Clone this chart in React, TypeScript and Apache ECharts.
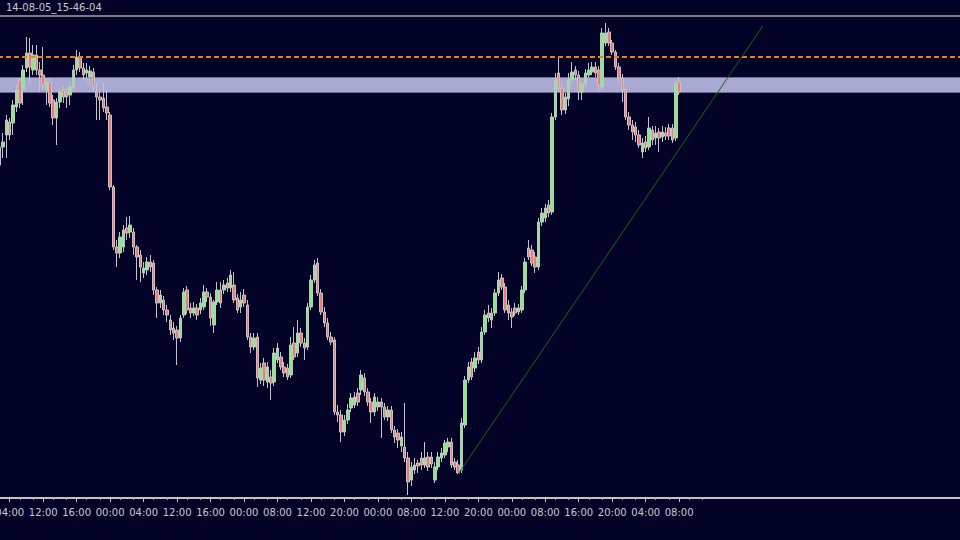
import React, { useEffect, useRef } from "react";
import * as echarts from "echarts";

const TITLE = "14-08-05_15-46-04";
const TIME_LABELS = [
  "04:00", "12:00", "16:00", "00:00", "04:00", "12:00", "16:00", "00:00", "08:00", "12:00", "20:00",
  "00:00", "08:00", "12:00", "20:00", "00:00", "08:00", "16:00", "20:00", "04:00", "08:00",
];
const LABEL_FIRST = 3;
const LABEL_STEP = 10;
const AXIS_SLOTS = 288;
const TICK_LAST = 210;

// [open, close, low, high]
const OHLC: number[][] = [
  [335, 353, 332, 367], [353, 358, 342, 367], [365, 380, 342, 385], [378, 365, 360, 382], [377, 395, 365, 400],
  [393, 410, 388, 415], [420, 397, 392, 422], [410, 430, 395, 435], [432, 447, 428, 463], [447, 433, 417, 462],
  [430, 445, 425, 455], [445, 430, 425, 455], [430, 425, 408, 438], [425, 415, 410, 453], [410, 418, 395, 422],
  [418, 397, 393, 422], [400, 382, 375, 405], [382, 398, 355, 402], [398, 408, 392, 412], [410, 403, 397, 414],
  [408, 403, 392, 412], [405, 413, 395, 418], [413, 430, 408, 435], [430, 443, 425, 450], [443, 432, 428, 448],
  [432, 425, 420, 437], [427, 430, 417, 437], [423, 429, 415, 434], [428, 413, 408, 432], [408, 403, 380, 417],
  [403, 400, 380, 410], [402, 392, 388, 418], [393, 387, 380, 410], [385, 313, 310, 388], [313, 253, 250, 315],
  [253, 247, 233, 260], [247, 263, 242, 268], [253, 270, 248, 275], [272, 267, 260, 283], [268, 275, 262, 284],
  [268, 253, 245, 272], [253, 243, 220, 255], [245, 233, 218, 250], [227, 232, 222, 238], [230, 238, 225, 243],
  [238, 233, 228, 245], [237, 210, 205, 240], [210, 197, 182, 213], [197, 205, 192, 210], [200, 190, 185, 204],
  [190, 185, 178, 195], [180, 170, 165, 185], [172, 167, 160, 178], [170, 162, 135, 174], [162, 182, 158, 185],
  [185, 208, 182, 212], [210, 190, 186, 214], [192, 187, 182, 197], [187, 192, 184, 198], [192, 185, 180, 196],
  [190, 197, 186, 202], [193, 208, 190, 215], [208, 203, 198, 212], [203, 182, 174, 207], [175, 198, 167, 200],
  [198, 210, 195, 218], [210, 197, 192, 218], [210, 215, 206, 220], [217, 212, 208, 222], [212, 225, 208, 230],
  [215, 200, 197, 228], [202, 190, 187, 206], [193, 200, 187, 208], [205, 197, 193, 211], [195, 163, 160, 200],
  [163, 153, 147, 167], [153, 162, 150, 167], [163, 122, 113, 167], [120, 132, 116, 137], [137, 120, 114, 142],
  [118, 133, 112, 138], [123, 117, 100, 130], [118, 147, 114, 152], [140, 152, 137, 157], [143, 133, 130, 148],
  [133, 127, 123, 138], [132, 123, 120, 136], [125, 155, 122, 163], [157, 143, 140, 173], [147, 167, 143, 180],
  [167, 157, 153, 172], [157, 152, 140, 162], [153, 193, 150, 197], [193, 220, 190, 225], [220, 235, 217, 240],
  [237, 207, 204, 242], [207, 188, 185, 211], [188, 177, 173, 193], [177, 163, 160, 182], [163, 158, 155, 168],
  [160, 88, 85, 163], [88, 85, 78, 95], [85, 68, 58, 90], [68, 80, 64, 85], [80, 90, 76, 96],
  [92, 102, 88, 107], [95, 103, 92, 108], [107, 98, 94, 112], [110, 125, 105, 130], [122, 108, 104, 127],
  [108, 98, 94, 112], [98, 88, 77, 102], [88, 103, 84, 107], [93, 98, 89, 103], [98, 93, 62, 102],
  [93, 83, 80, 97], [83, 90, 79, 94], [90, 70, 67, 94], [70, 63, 57, 74], [67, 60, 52, 71],
  [54, 63, 48, 68], [53, 42, 38, 97], [42, 18, 5, 48], [20, 33, 14, 38], [30, 35, 26, 42],
  [37, 34, 27, 40], [42, 35, 30, 48], [35, 42, 32, 58], [43, 33, 29, 48], [43, 36, 32, 48],
  [20, 33, 17, 38], [33, 43, 30, 48], [42, 47, 38, 52], [45, 57, 42, 60], [53, 58, 48, 62],
  [58, 35, 32, 62], [38, 33, 30, 42], [35, 27, 26, 40], [30, 77, 27, 82], [75, 120, 72, 124],
  [120, 133, 117, 138], [138, 123, 120, 142], [132, 142, 128, 148], [148, 140, 136, 153], [140, 168, 137, 173],
  [168, 185, 165, 190], [187, 182, 178, 195], [180, 187, 172, 192], [187, 207, 184, 211], [207, 220, 204, 228],
  [222, 213, 210, 226], [213, 190, 187, 217], [195, 187, 180, 200], [188, 183, 172, 192], [192, 187, 184, 197],
  [188, 192, 185, 196], [190, 210, 187, 214], [210, 238, 207, 242], [252, 243, 240, 260], [250, 237, 234, 255],
  [243, 233, 227, 248], [233, 278, 230, 282], [278, 287, 274, 292], [282, 292, 278, 296], [295, 287, 283, 300],
  [288, 383, 285, 387], [383, 420, 380, 427], [427, 412, 408, 442], [412, 390, 385, 416], [390, 403, 386, 407],
  [401, 420, 394, 427], [420, 428, 416, 438], [430, 425, 420, 434], [425, 408, 400, 429], [408, 416, 400, 418],
  [416, 427, 412, 431], [425, 430, 422, 437], [428, 433, 425, 438], [433, 427, 423, 438], [430, 415, 408, 434],
  [413, 467, 410, 472], [457, 467, 454, 477], [468, 457, 454, 472], [457, 448, 445, 460], [448, 433, 430, 450],
  [433, 422, 418, 437], [422, 410, 398, 426], [410, 383, 380, 412], [383, 375, 370, 388], [375, 368, 360, 380],
  [373, 365, 358, 378], [365, 355, 352, 370], [348, 357, 342, 362], [358, 352, 348, 364], [353, 372, 350, 383],
  [370, 360, 355, 374], [362, 367, 355, 374], [368, 362, 348, 372], [363, 368, 358, 374], [367, 364, 360, 373],
  [372, 364, 360, 376], [372, 360, 357, 376], [362, 417, 359, 420], [418, 408, 405, 423],
];

const RESIST_LEVEL = 443;
const ZONE_LOW = 407.5;
const ZONE_HIGH = 422.5;
const TREND_START: [number, number] = [137, 26];
const TREND_END: [number, number] = [228, 474];
const Y_MIN = 2;
const Y_MAX = 484;

const SLOTS = Array.from({ length: AXIS_SLOTS }, (_, i) => String(i));
const isLabelIdx = (i: number) =>
  i >= LABEL_FIRST && (i - LABEL_FIRST) % LABEL_STEP === 0 && (i - LABEL_FIRST) / LABEL_STEP < TIME_LABELS.length;
const isMinorIdx = (i: number) => {
  if (i > TICK_LAST) return false;
  const r = (((i - LABEL_FIRST) % LABEL_STEP) + LABEL_STEP) % LABEL_STEP;
  return r === 3 || r === 7;
};

const BG = "#030328";
const AXIS_TEXT = "#c8c8c8";

export default function App() {
  const ref = useRef<HTMLDivElement>(null);
  useEffect(() => {
    if (!ref.current) return;
    const chart = echarts.init(ref.current, undefined, { renderer: "svg" });
    chart.setOption({
      animation: false,
      backgroundColor: BG,
      grid: {
        left: -2,
        right: -2,
        top: 16,
        bottom: 42,
        containLabel: false,
        outerBoundsMode: "none",
      },
      graphic: [
        {
          type: "text",
          left: 6,
          top: 2,
          style: { text: TITLE, fill: AXIS_TEXT, font: '10px "DejaVu Sans"' },
        },
      ],
      xAxis: [
        {
          type: "category",
          data: SLOTS,
          position: "bottom",
          boundaryGap: true,
          axisLine: { show: true, lineStyle: { color: "#c4c4c4", width: 2 } },
          axisTick: {
            show: true,
            alignWithLabel: true,
            interval: (i: number) => isLabelIdx(i),
            length: 4,
            lineStyle: { color: "#c4c4c4" },
          },
          axisLabel: {
            interval: (i: number) => isLabelIdx(i),
            formatter: (_v: string, i: number) =>
              isLabelIdx(i) ? TIME_LABELS[(i - LABEL_FIRST) / LABEL_STEP] : "",
            color: AXIS_TEXT,
            fontSize: 10,
            fontFamily: "DejaVu Sans",
            margin: 9,
            hideOverlap: false,
          },
          splitLine: { show: false },
        },
        {
          type: "category",
          data: SLOTS,
          position: "bottom",
          boundaryGap: true,
          axisLine: { show: false },
          axisTick: {
            show: true,
            alignWithLabel: true,
            interval: (i: number) => isMinorIdx(i),
            length: 2,
            lineStyle: { color: "#a8a8a8" },
          },
          axisLabel: { show: false },
          splitLine: { show: false },
        },
        {
          type: "category",
          data: SLOTS,
          position: "top",
          axisLine: { show: true, lineStyle: { color: "#a4a4a4", width: 1.5 } },
          axisTick: { show: false },
          axisLabel: { show: false },
          splitLine: { show: false },
        },
      ],
      yAxis: { type: "value", min: Y_MIN, max: Y_MAX, show: false, splitLine: { show: false } },
      series: [
        {
          type: "candlestick",
          xAxisIndex: 0,
          data: OHLC,
          barWidth: 3,
          itemStyle: {
            color: "#7ef07e",
            color0: "#f07a7a",
            borderColor: "#c4c4c4",
            borderColor0: "#c4c4c4",
            borderWidth: 1,
          },
          markArea: {
            silent: true,
            z: 1,
            itemStyle: { color: "#a9a9d3", borderColor: "#6d6a9c", borderWidth: 1 },
            data: [[{ yAxis: ZONE_HIGH }, { yAxis: ZONE_LOW }]],
          },
          markLine: {
            silent: true,
            symbol: "none",
            label: { show: false },
            data: [
              { yAxis: RESIST_LEVEL, lineStyle: { color: "#ee8010", width: 2, type: [5, 3] } },
              [
                { coord: TREND_START, lineStyle: { color: "#0b6a12", width: 1, type: "solid" } },
                { coord: TREND_END },
              ],
            ],
          },
        },
      ],
    });
    return () => chart.dispose();
  }, []);
  return (
    <div
      ref={ref}
      style={{ position: "fixed", left: 0, top: 0, width: 960, height: 540 }}
    />
  );
}
